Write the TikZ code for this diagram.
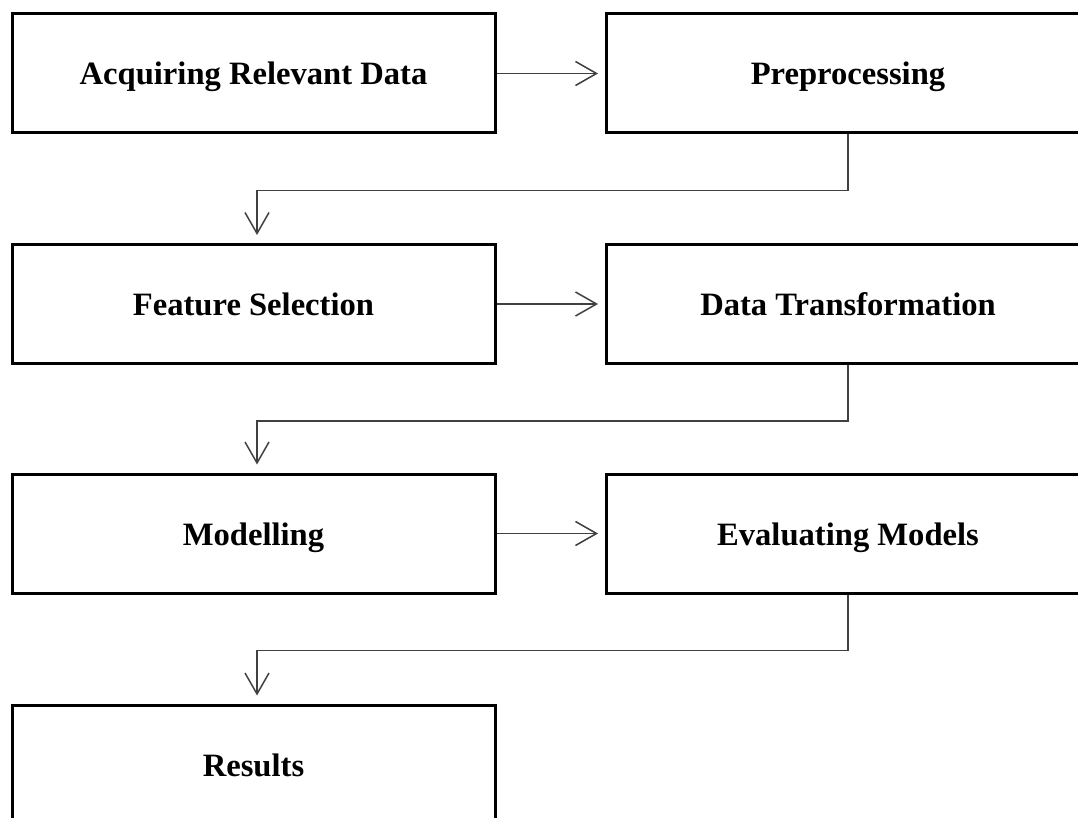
\documentclass[tikz,border=0pt]{standalone}
\usepackage{fontspec}
\setmainfont{Liberation Serif}
\usetikzlibrary{arrows.meta}
\begin{document}
\begin{tikzpicture}[x=1pt,y=-1pt,
  stepbox/.style={draw=black, line width=3pt, minimum width=483pt, minimum height=119pt, inner sep=0pt, text height=30pt, text depth=7pt, font=\fontsize{32.6}{39}\selectfont\bfseries},
  arr/.style={draw=black!75, line width=1.5pt, -{Straight Barb[length=21pt,width=24pt,line width=1.5pt]}}]
\useasboundingbox (0,0) rectangle (1078,818);
\clip (0,0) rectangle (1078,818);
\node[stepbox] (a) at (253.5,73.5) {Acquiring Relevant Data};
\node[stepbox] (b) at (848,73.5) {Preprocessing};
\node[stepbox] (c) at (253.5,304) {Feature Selection};
\node[stepbox] (d) at (848,304) {Data Transformation};
\node[stepbox] (e) at (253.5,533.5) {Modelling};
\node[stepbox] (f) at (848,533.5) {Evaluating Models};
\node[stepbox] (g) at (253.5,764.5) {Results};
\draw[arr] (a.east) -- ([xshift=-7pt]b.west);
\draw[arr] (c.east) -- ([xshift=-7pt]d.west);
\draw[arr] (e.east) -- ([xshift=-7pt]f.west);
\draw[arr] (b.south) -- ++(0,56) -| ([xshift=3.5pt,yshift=8pt]c.north);
\draw[arr] (d.south) -- ++(0,56) -| ([xshift=3.5pt,yshift=8pt]e.north);
\draw[arr] (f.south) -- ++(0,56) -| ([xshift=3.5pt,yshift=8pt]g.north);
\end{tikzpicture}
\end{document}
